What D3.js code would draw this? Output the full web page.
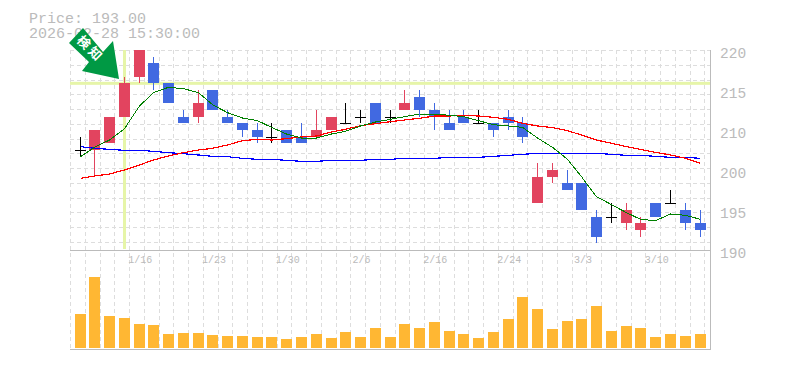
<!DOCTYPE html>
<html>
<head>
<meta charset="utf-8">
<script src="https://cdn.jsdelivr.net/npm/d3@7"></script>
<style>
  html, body { margin: 0; padding: 0; background: #fff; }
  svg { display: block; }
  text { font-family: "Liberation Mono", monospace; fill: #bbb; }
</style>
</head>
<body>
<div id="app"></div>
<script>
// trading days, one per candle
const dates = ["1/9","1/13","1/14","1/15","1/16","1/19","1/20","1/21","1/22","1/23",
  "1/26","1/27","1/28","1/29","1/30","2/2","2/3","2/4","2/5","2/6",
  "2/9","2/10","2/12","2/13","2/16","2/17","2/18","2/19","2/20","2/24",
  "2/25","2/26","2/27","3/2","3/3","3/4","3/5","3/6","3/9","3/10",
  "3/11","3/12","3/13"];
const dateTicks = ["1/16","1/23","1/30","2/6","2/16","2/24","3/3","3/10"];

const opens = [205,205,206,210,216,218,215,210,210,214,210,209,208,207,208,207,207,208,209,210,212,210,211,213,211,209,210,209,209,210,209,197,201,200,200,195,195,194,193,197,197,196,194];
const highs = [207,208,210,216,220,219,215,211,214,214,211,209,209,209,208,209,211,210,212,211,212,211,214,214,212,211,211,211,209,211,210,203,203,202,200,196,197,197,195,197,199,197,196];
const lows = [204,201,206,210,215,214,212,209,209,211,209,207,206,206,206,206,207,208,209,209,209,209,211,210,208,208,209,209,207,208,206,197,200,199,196,191,194,193,192,195,197,193,192];
const closes = [205,208,210,215,220,215,212,209,212,211,209,208,207,207,206,206,208,210,209,210,209,210,212,211,210,208,209,209,208,209,207,201,202,199,196,192,195,196,194,195,197,194,193];

const ma5 = [204,205.4,206.5,208.2,211.6,213.6,214.4,214.2,213.6,211.8,210.6,209.8,209.4,208.4,207.4,206.8,206.8,207.4,207.8,208.6,209.2,209.6,210,210.4,210.4,210.2,210,209.4,208.8,208.6,208.4,206.8,205.4,203.6,201,198,196.8,195.6,194.6,194.4,195.4,195.2,194.6];
const ma25 = [200.75,201.1,201.4,202,202.75,203.5,204.1,204.6,205,205.25,205.75,206.4,206.6,206.5,206.7,206.95,207.1,207.7,208.1,208.65,208.95,209.25,209.5,209.75,210.1,210.1,210.2,210.1,209.9,209.6,209,208.6,208.35,207.9,207.25,206.5,206,205.5,205.1,204.65,204.25,203.75,203];
const ma75 = [205.5,205.25,205.1,204.95,204.95,204.8,204.6,204.45,204.25,204.05,204,203.75,203.6,203.6,203.45,203.3,203.3,203.45,203.45,203.45,203.6,203.6,203.75,203.75,203.75,203.9,203.9,203.9,204.05,204.2,204.35,204.5,204.5,204.5,204.5,204.5,204.35,204.2,204.2,204.05,203.9,203.9,203.75];

const volumes = [34,71,32,30,24,23,14,15,15,13,12,12,11,11,9,11,14,10,16,11,20,11,24,20,26,17,14,10,16,29,51,39,19,27,29,42,17,22,20,11,14,12,14];

// the labels on the right are not evenly spaced in price, the picture has them like this
const priceLabels = ["220","215","210","200","195","190"];
const signalDate = "1/15";
const signalPrice = 215;

const width = 785, height = 370;
const plotLeft = 70, plotRight = 710, plotTop = 50, plotBottom = 250, volBottom = 350;

const svg = d3.select("#app").append("svg")
  .attr("width", width)
  .attr("height", height);

const x = d3.scaleBand()
  .domain(dates)
  .range([72.72, 707.4])
  .paddingInner(0.2547)
  .paddingOuter(0.12735);

const y = d3.scaleLinear().domain([190, 220]).range([plotBottom, plotTop]);
const yVol = d3.scaleLinear().domain([0, 71]).range([348, 277]);
const yLabels = d3.scalePoint().domain(priceLabels).range([53, 253]);

const bodyX = d => Math.round(x(d));
const midX = d => Math.round(x(d)) + 5.5;

// dashed grid, square cells
const gridStep = 14.75;
const grid = svg.append("g")
  .attr("stroke", "#ddd")
  .attr("stroke-dasharray", "4 3")
  .attr("shape-rendering", "crispEdges");
grid.selectAll("line.v")
  .data(d3.range(plotLeft + 0.5, plotRight, gridStep))
  .enter().append("line")
  .attr("class", "v")
  .attr("x1", d => d).attr("x2", d => d)
  .attr("y1", plotTop).attr("y2", volBottom);
grid.selectAll("line.h")
  .data(d3.range(plotTop + 0.5, plotBottom, gridStep))
  .enter().append("line")
  .attr("class", "h")
  .attr("x1", plotLeft).attr("x2", plotRight)
  .attr("y1", d => d).attr("y2", d => d);

// signal cross
svg.append("rect")
  .attr("x", plotLeft).attr("y", y(signalPrice) - 1.5)
  .attr("width", plotRight - plotLeft).attr("height", 3)
  .attr("fill", "#e6f5a8");
svg.append("rect")
  .attr("x", midX(signalDate) - 1.5).attr("y", plotTop)
  .attr("width", 3).attr("height", plotBottom - plotTop - 1)
  .attr("fill", "#e6f5a8");

// frame
const frame = svg.append("g")
  .attr("stroke", "#bbb")
  .attr("shape-rendering", "crispEdges");
frame.append("line").attr("x1", plotLeft).attr("x2", plotRight + 1).attr("y1", plotBottom + 0.5).attr("y2", plotBottom + 0.5);
frame.append("line").attr("x1", plotLeft).attr("x2", plotRight + 1).attr("y1", volBottom - 0.5).attr("y2", volBottom - 0.5);
frame.append("line").attr("x1", plotRight + 0.5).attr("x2", plotRight + 0.5).attr("y1", plotTop).attr("y2", volBottom);

// volume
svg.append("g").selectAll("rect")
  .data(dates)
  .enter().append("rect")
  .attr("x", d => bodyX(d))
  .attr("y", (d, i) => yVol(volumes[i]))
  .attr("width", 11)
  .attr("height", (d, i) => yVol(0) - yVol(volumes[i]))
  .attr("fill", "#ffb733");

// moving averages
const maLine = d3.line()
  .x((d, i) => midX(dates[i]))
  .y(d => y(d));
const maSeries = [
  { values: ma75, color: "#0000ff", w: 1.2 },
  { values: ma25, color: "#ff0000", w: 1.2 },
  { values: ma5, color: "#008000", w: 1 }
];

const candleColor = i => closes[i] > opens[i] ? "#e2445f" : closes[i] < opens[i] ? "#4169e1" : "#000";

// candles
const candles = svg.append("g").attr("shape-rendering", "crispEdges");
const candle = candles.selectAll("g")
  .data(dates)
  .enter().append("g");
candle.append("line")
  .attr("x1", d => midX(d)).attr("x2", d => midX(d))
  .attr("y1", (d, i) => y(highs[i]))
  .attr("y2", (d, i) => y(lows[i]))
  .attr("stroke", (d, i) => candleColor(i));
candle.append("rect")
  .attr("x", d => bodyX(d))
  .attr("y", (d, i) => y(Math.max(opens[i], closes[i])))
  .attr("width", 11)
  .attr("height", (d, i) => Math.max(1, Math.abs(y(opens[i]) - y(closes[i]))))
  .attr("fill", (d, i) => candleColor(i));

svg.append("g").selectAll("path")
  .data(maSeries)
  .enter().append("path")
  .attr("d", d => maLine(d.values))
  .attr("fill", "none")
  .attr("stroke", d => d.color)
  .attr("stroke-width", d => d.w)
  .attr("shape-rendering", "crispEdges");

// axes
const axisPrice = svg.append("g")
  .attr("transform", `translate(${plotRight + 10},0)`)
  .call(d3.axisRight(yLabels).tickSize(0).tickPadding(0));
axisPrice.select(".domain").remove();
axisPrice.selectAll("text").style("font-size", "14.5px").attr("fill", null);

const axisDates = svg.append("g")
  .attr("transform", `translate(1,${plotBottom})`)
  .call(d3.axisBottom(x).tickValues(dateTicks).tickSize(0).tickPadding(6));
axisDates.select(".domain").remove();
axisDates.selectAll("text").style("font-size", "10px").attr("fill", null);

// header
const header = svg.append("g").style("font-size", "15px");
header.append("text").attr("x", 29).attr("y", 23).text("Price: 193.00");
header.append("text").attr("x", 29).attr("y", 38).text("2026-02-28 15:30:00");

// signal arrow
const arrow = svg.append("g");
arrow.append("path")
  .attr("d", d3.line()([[83,28],[103,52],[113,41],[119,79],[82,71],[89,62],[69,43]]) + "Z")
  .attr("fill", "#009944");
arrow.append("text")
  .attr("transform", "translate(90.5,49) rotate(45)")
  .attr("text-anchor", "middle")
  .attr("dy", "0.35em")
  .style("font-family", "'Noto Sans CJK JP'")
  .style("font-size", "13px")
  .style("font-weight", "bold")
  .style("letter-spacing", "3px")
  .style("fill", "#fff")
  .text("検知");
</script>
</body>
</html>
